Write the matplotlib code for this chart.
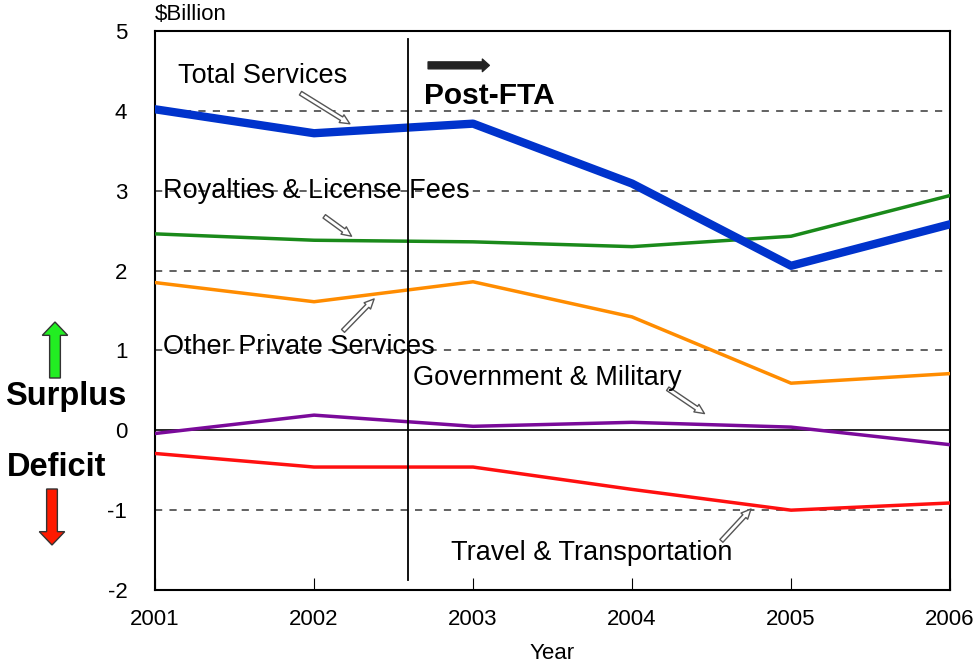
import matplotlib.pyplot as plt
from matplotlib.patches import FancyArrow

plt.rcParams['font.family'] = ['Liberation Sans', 'DejaVu Sans']
plt.rcParams['axes.unicode_minus'] = False

years = [2001, 2002, 2003, 2004, 2005, 2006]
total_services = [4.02, 3.72, 3.84, 3.09, 2.06, 2.58]
royalties = [2.46, 2.38, 2.36, 2.30, 2.43, 2.94]
other_private = [1.85, 1.61, 1.86, 1.42, 0.59, 0.71]
government = [-0.04, 0.19, 0.05, 0.10, 0.04, -0.18]
travel = [-0.29, -0.46, -0.46, -0.74, -1.00, -0.91]
fta_year = 2002.59

fig = plt.figure(figsize=(9.77, 6.67), dpi=100)
ax = fig.add_axes([0.1587, 0.1154, 0.8137, 0.8381])

for y in [4, 3, 2, 1, -1, -2]:
    ax.axhline(y, color='#555555', linestyle=(0, (4, 4)), linewidth=1.3, zorder=1)
ax.axhline(0, color='black', linewidth=1.2, zorder=1)

ax.plot(years, royalties, color='#1a8a1a', linewidth=2.5, zorder=3)
ax.plot(years, other_private, color='#ff8c00', linewidth=2.5, zorder=3)
ax.plot(years, government, color='#7a0a9a', linewidth=2.5, zorder=3)
ax.plot(years, travel, color='#ff1010', linewidth=2.5, zorder=3)
ax.plot(years, total_services, color='#0033cc', linewidth=6, zorder=4)

ax.plot([fta_year, fta_year], [4.9, -1.87], color='black', linewidth=1.3, zorder=5)

ax.set_xlim(2001, 2006)
ax.set_ylim(-2, 5)
ax.set_xticks(years)
ax.set_yticks(range(-2, 6))
ax.tick_params(axis='x', direction='in', length=9, labelsize=16, pad=14)
ax.tick_params(axis='y', length=0, labelsize=16, pad=20)
for s in ax.spines.values():
    s.set_linewidth(1.5)
ax.set_xlabel('Year', fontsize=16, labelpad=9)

arrow_kw = dict(arrowstyle='simple,head_length=0.7,head_width=0.65,tail_width=0.3',
                fc='white', ec='#555555', lw=1)
ax.annotate('', xy=(2002.24, 3.82), xytext=(2001.90, 4.24), arrowprops=arrow_kw)
ax.annotate('', xy=(2002.25, 2.41), xytext=(2002.05, 2.70), arrowprops=arrow_kw)
ax.annotate('', xy=(2002.39, 1.67), xytext=(2002.17, 1.22), arrowprops=arrow_kw)
ax.annotate('', xy=(2004.47, 0.19), xytext=(2004.21, 0.54), arrowprops=arrow_kw)
ax.annotate('', xy=(2004.76, -0.96), xytext=(2004.55, -1.41), arrowprops=arrow_kw)

lab = dict(fontsize=19.5, va='center', zorder=6)
ax.text(2001.145, 4.44, 'Total Services', **lab)
ax.text(2001.05, 3.0, 'Royalties & License Fees', **lab)
ax.text(2001.05, 1.04, 'Other Private Services', **lab)
ax.text(2002.62, 0.65, 'Government & Military', **lab)
ax.text(2002.86, -1.54, 'Travel & Transportation', **lab)
ax.text(2002.69, 4.18, 'Post-FTA', fontsize=21.5, fontweight='bold', va='center', zorder=6)
ax.annotate('', xy=(2003.12, 4.57), xytext=(2002.70, 4.57),
            arrowprops=dict(arrowstyle='simple,head_length=0.5,head_width=0.9,tail_width=0.5',
                            fc='#222222', ec='#222222'))

fig.text(155 / 977, 1 - 14 / 667, '$Billion', fontsize=16, va='center')
fig.text(5 / 977, 1 - 397 / 667, 'Surplus', fontsize=23.5, fontweight='bold', va='center')
fig.text(7 / 977, 1 - 468 / 667, 'Deficit', fontsize=23.5, fontweight='bold', va='center')

fig.patches.append(FancyArrow(55 / 977, 1 - 378 / 667, 0, 56 / 667, width=0.011,
                              head_width=0.026, head_length=0.02, length_includes_head=True,
                              fc='#22ee22', ec='#333333', lw=1, transform=fig.transFigure))
fig.patches.append(FancyArrow(52 / 977, 1 - 489 / 667, 0, -56 / 667, width=0.011,
                              head_width=0.026, head_length=0.02, length_includes_head=True,
                              fc='#ff1a00', ec='#333333', lw=1, transform=fig.transFigure))

fig.savefig('out.png', dpi=100)
